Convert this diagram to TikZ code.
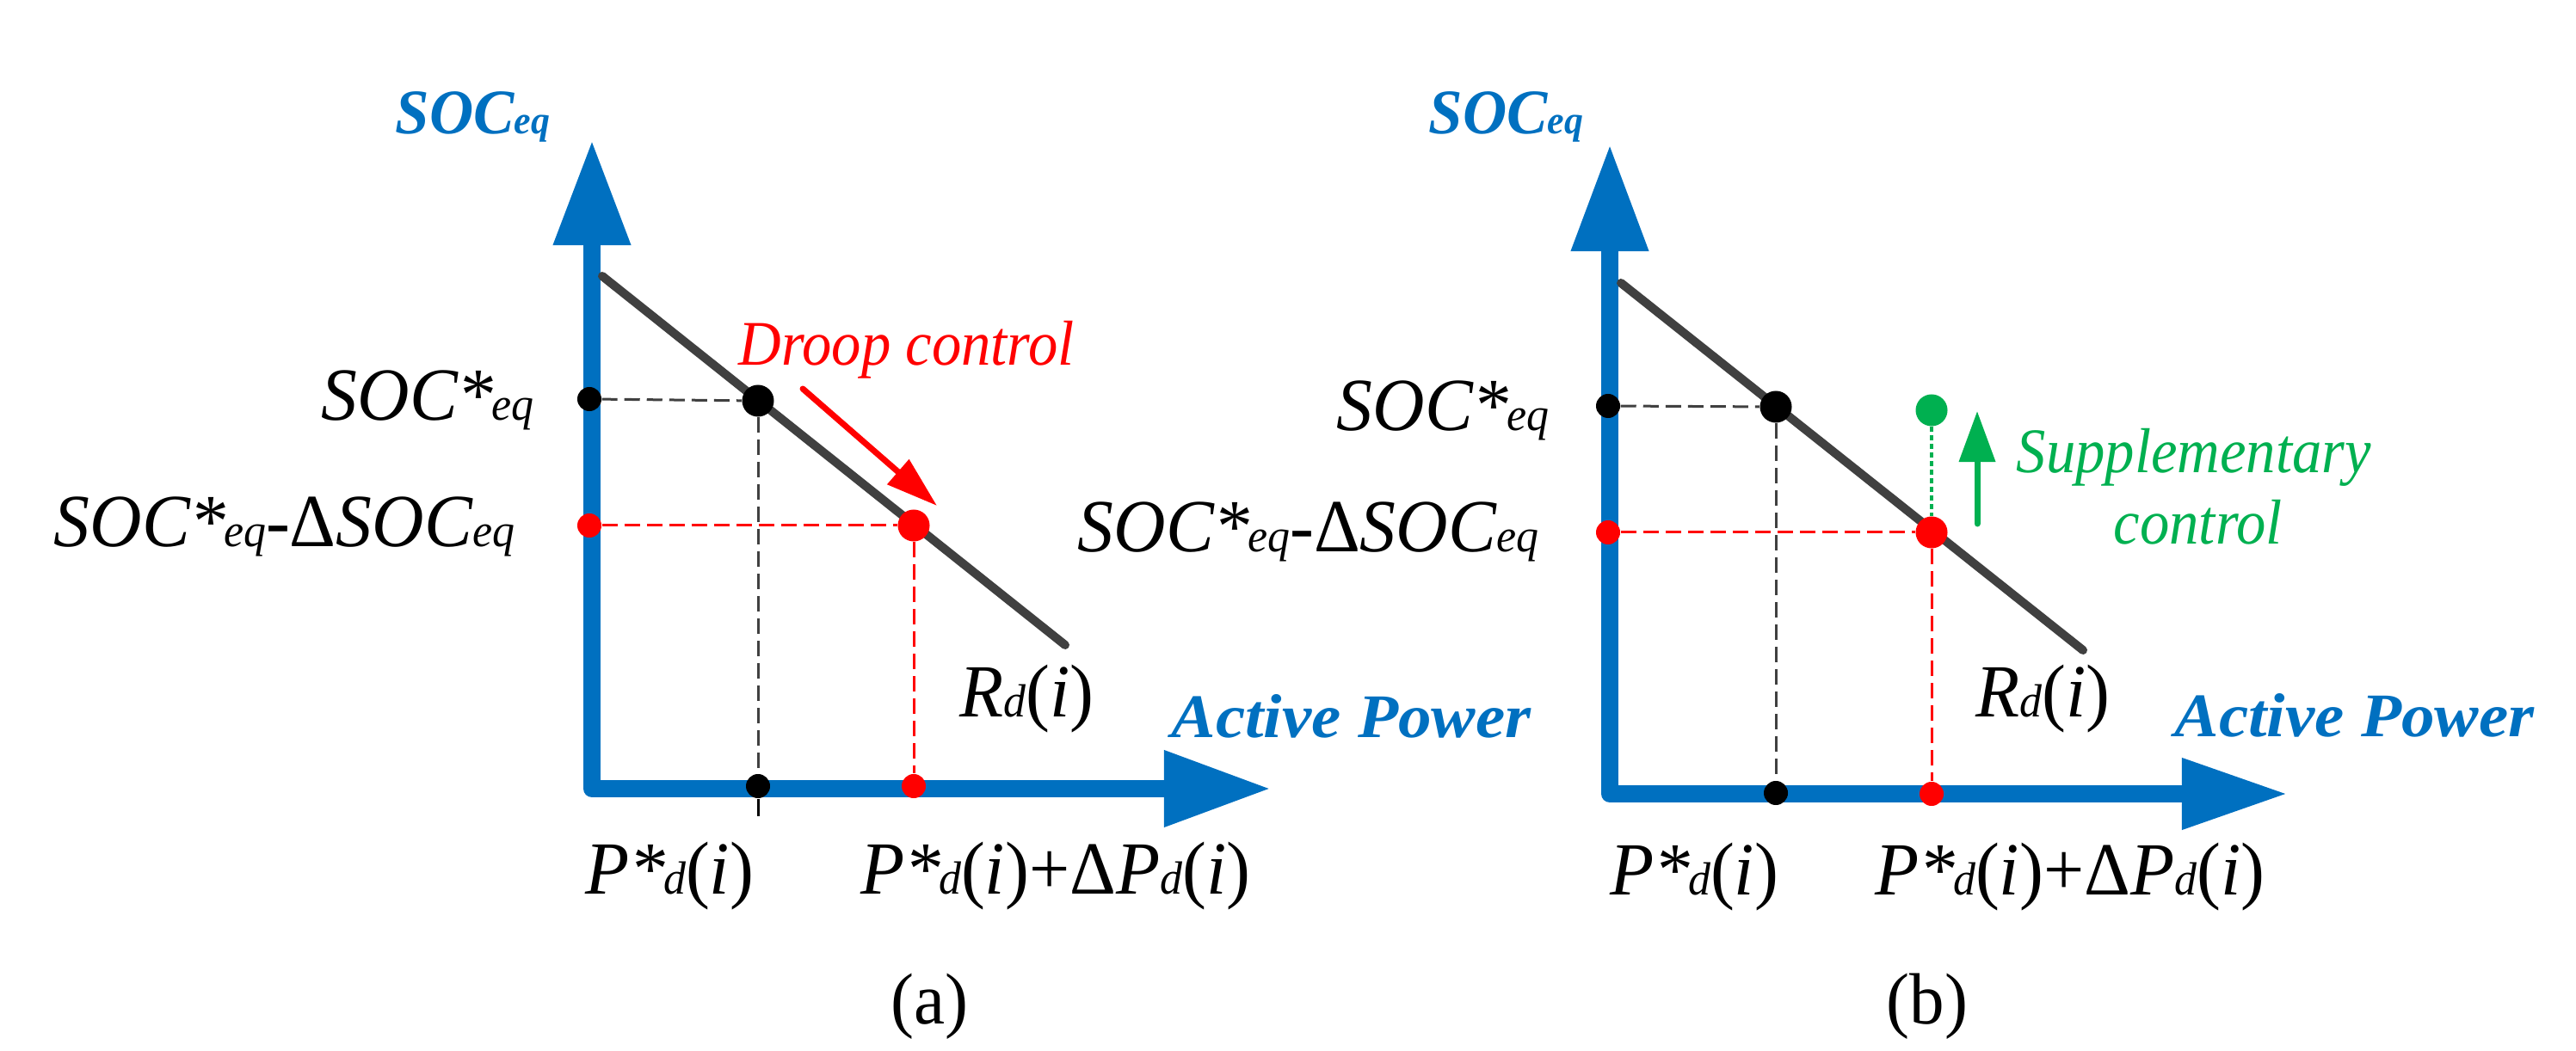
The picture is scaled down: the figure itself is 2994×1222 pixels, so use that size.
\documentclass[tikz,border=0pt]{standalone}
\usepackage{fontspec}
\usetikzlibrary{arrows.meta}
\newfontfamily\labelfont[FakeStretch=0.96]{Liberation Serif}
\newfontfamily\ctrlfont[FakeStretch=0.93]{Liberation Serif}
\newfontfamily\axisfont[FakeStretch=1.07]{Liberation Serif}
\definecolor{axisblue}{HTML}{0070C0}
\definecolor{linegray}{HTML}{404040}
\definecolor{ctrlgreen}{HTML}{00B050}
\newcommand{\lowtext}[1]{\scalebox{0.62}{#1}}
\newcommand{\socstar}{SOC*\kern-0.03em\lowtext{eq}}
\newcommand{\pstar}{P*\kern-0.03em\lowtext{d}\textup{(}i\textup{)}}
\tikzset{
  axisline/.style={color=axisblue, line width=0.2cm, line join=round},
  droopline/.style={color=linegray, line width=0.1cm, line cap=round},
  blackdash/.style={color=linegray, line width=0.03cm, dash pattern=on 0.18cm off 0.08cm},
  reddash/.style={color=red, line width=0.03cm, dash pattern=on 0.18cm off 0.08cm},
  greendash/.style={color=ctrlgreen, line width=0.045cm, dash pattern=on 0.06cm off 0.04cm},
  bigdot/.style={circle, fill, inner sep=0pt, minimum size=0.37cm},
  smalldot/.style={circle, fill, inner sep=0pt, minimum size=0.28cm},
  mainlabel/.style={anchor=base west, inner sep=0pt, font=\labelfont\itshape\fontsize{24.8}{30}\selectfont},
  axislabel/.style={anchor=base west, inner sep=0pt, text=axisblue, font=\axisfont\bfseries\itshape\fontsize{20.5}{25}\selectfont},
  soctitle/.style={anchor=base west, inner sep=0pt, text=axisblue, font=\labelfont\bfseries\itshape\fontsize{21}{25}\selectfont},
  ctrllabel/.style={anchor=base west, inner sep=0pt, font=\ctrlfont\itshape\fontsize{21}{25}\selectfont},
  caption/.style={anchor=base, inner sep=0pt, font=\labelfont\fontsize{24}{28}\selectfont}
}

\begin{document}
\begin{tikzpicture}[x=0.01cm, y=-0.01cm]
  \useasboundingbox (0,0) rectangle (2994,1222);
  % Panel (a)
  \coordinate (aytip) at (688,163);
  \coordinate (aorigin) at (688,917);
  \coordinate (axtip) at (1477,917);
  \coordinate (adroopstart) at (700,321);
  \coordinate (adroopend) at (1238,750);
  \coordinate (atick) at (881,949);
  \coordinate (aarrowstart) at (933,452);
  \coordinate (aarrowtip) at (1089,588);
  \draw[axisline, {Triangle[length=1.22cm,width=0.85cm]}-{Triangle[length=1.24cm,width=0.84cm]}] (aytip) -- (aorigin) -- (axtip);
  \draw[droopline] (adroopstart) -- (adroopend);
  \draw[color=red, line width=0.07cm, line cap=round, -{Triangle[length=0.6cm,width=0.37cm]}] (aarrowstart) -- (aarrowtip);
  \node[bigdot] (aop) at (881,466) {};
  \node[bigdot, red] (anew) at (1062,611) {};
  \node[smalldot] (asoc) at (685,464) {};
  \node[smalldot, red] (asocnew) at (685,611) {};
  \node[smalldot] (apow) at (881,914) {};
  \node[smalldot, red] (apownew) at (1062,914) {};
  % Draw the guide lines
  \draw[blackdash] (asoc) -- (aop);
  \draw[blackdash] (aop) -- (apow);
  \draw[reddash] (asocnew) -- (anew);
  \draw[reddash] (anew) -- (apownew);
  \draw[line width=0.03cm] (apow) -- (atick);
  \node[soctitle] (asoctitle) at (459,156) {SOC\lowtext{eq}};
  \node[axislabel] (apowtitle) at (1361,857) {Active Power};
  \node[ctrllabel, red] (adroop) at (858,425) {Droop control};
  \node[mainlabel] (asoclabel) at (373,489) {\socstar};
  \node[mainlabel] (asocnewlabel) at (62,636) {\socstar\textup{-}\textup{Δ}SOC\lowtext{eq}};
  \node[mainlabel] (arlabel) at (1115,833) {R\lowtext{d}\textup{(}i\textup{)}};
  \node[mainlabel] (aplabel) at (680,1039) {\pstar};
  \node[mainlabel] (apnewlabel) at (1000,1039) {\pstar\textup{+Δ}P\lowtext{d}\textup{(}i\textup{)}};
  \node[caption] (acaption) at (1080,1190) {(a)};
  % Panel (b)
  \coordinate (bytip) at (1871,168);
  \coordinate (borigin) at (1871,923);
  \coordinate (bxtip) at (2659,923);
  \coordinate (bdroopstart) at (1884,329);
  \coordinate (bdroopend) at (2421,756);
  \coordinate (barrowstart) at (2298,609);
  \coordinate (barrowtip) at (2298,478);
  \draw[axisline, {Triangle[length=1.24cm,width=0.85cm]}-{Triangle[length=1.23cm,width=0.78cm]}] (bytip) -- (borigin) -- (bxtip);
  \draw[droopline] (bdroopstart) -- (bdroopend);
  \draw[color=ctrlgreen, line width=0.07cm, line cap=round, -{Triangle[length=0.59cm,width=0.41cm]}] (barrowstart) -- (barrowtip);
  \node[bigdot] (bop) at (2064,473) {};
  \node[bigdot, red] (bnew) at (2245,619) {};
  \node[bigdot, ctrlgreen] (bgreen) at (2245,477) {};
  \node[smalldot] (bsoc) at (1869,472) {};
  \node[smalldot, red] (bsocnew) at (1869,619) {};
  \node[smalldot] (bpow) at (2064,922) {};
  \node[smalldot, red] (bpownew) at (2245,923) {};
  % Draw the guide lines
  \draw[blackdash] (bsoc) -- (bop);
  \draw[blackdash] (bop) -- (bpow);
  \draw[reddash] (bsocnew) -- (bnew);
  \draw[reddash] (bnew) -- (bpownew);
  \draw[greendash] (bgreen) -- (bnew);
  \node[soctitle] (bsoctitle) at (1660,156) {SOC\lowtext{eq}};
  \node[axislabel] (bpowtitle) at (2527,856) {Active Power};
  \node[ctrllabel, ctrlgreen] (bsupp) at (2343,550) {Supplementary};
  \node[ctrllabel, ctrlgreen] (bctrl) at (2456,633) {control};
  \node[mainlabel] (bsoclabel) at (1553,501) {\socstar};
  \node[mainlabel] (bsocnewlabel) at (1252,642) {\socstar\textup{-}\textup{Δ}SOC\lowtext{eq}};
  \node[mainlabel] (brlabel) at (2296,833) {R\lowtext{d}\textup{(}i\textup{)}};
  \node[mainlabel] (bplabel) at (1871,1040) {\pstar};
  \node[mainlabel] (bpnewlabel) at (2179,1040) {\pstar\textup{+Δ}P\lowtext{d}\textup{(}i\textup{)}};
  \node[caption] (bcaption) at (2240,1190) {(b)};
\end{tikzpicture}
\end{document}
